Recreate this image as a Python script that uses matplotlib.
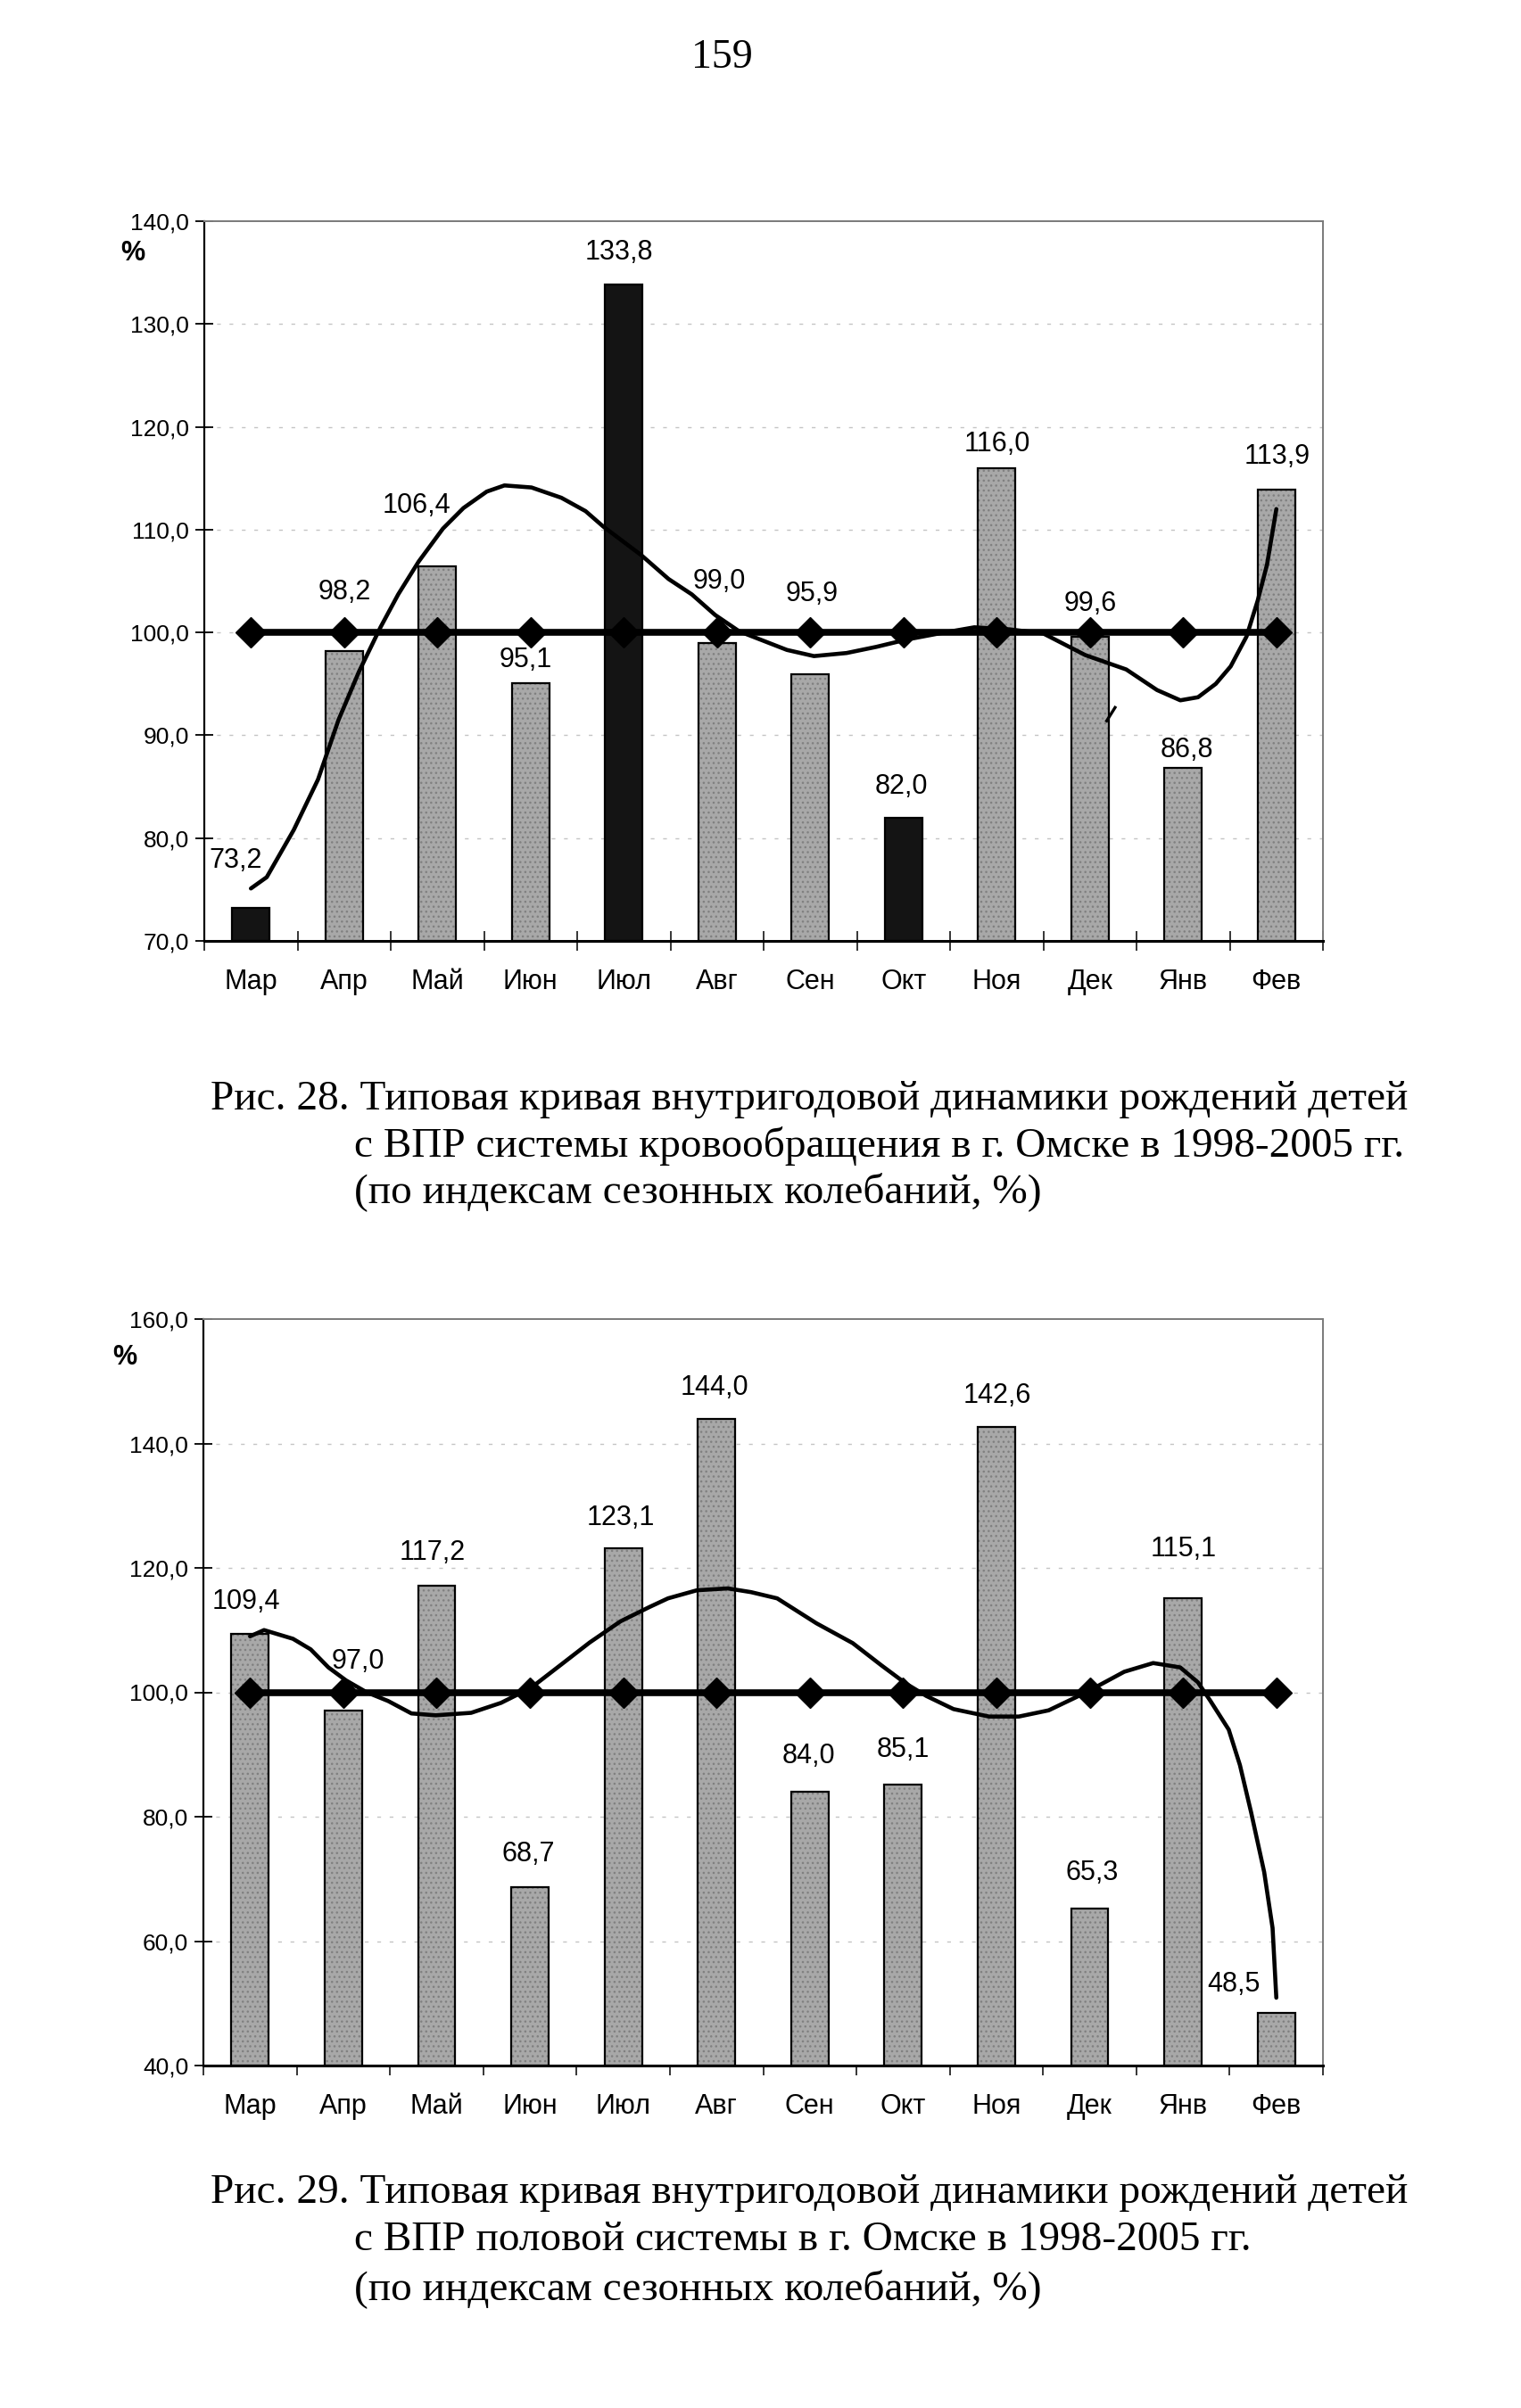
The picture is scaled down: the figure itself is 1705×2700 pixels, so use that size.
#!/usr/bin/env python3
"""
Seasonal index charts (page 159): births with congenital malformations,
Omsk 1998-2005, two bar charts with a 100% baseline and a trend curve.
"""

import matplotlib
matplotlib.use('Agg')
import matplotlib.pyplot as plt
from matplotlib import font_manager

# ---- data -----------------------------------------------------------------
months = ['Мар', 'Апр', 'Май', 'Июн', 'Июл', 'Авг', 'Сен', 'Окт', 'Ноя', 'Дек', 'Янв', 'Фев']

# Рис. 28 - система кровообращения
vals28 = [73.2, 98.2, 106.4, 95.1, 133.8, 99.0, 95.9, 82.0, 116.0, 99.6, 86.8, 113.9]
dark28 = [True, False, False, False, True, False, False, True, False, False, False, False]
base28 = [100.0, 100.0, 100.0, 100.0, 100.0, 100.0, 100.0, 100.0, 100.0, 100.0, 100.0, 100.0]
trend28_x = [0.0, 0.17, 0.46, 0.72, 0.94, 1.16, 1.39, 1.58, 1.80, 2.06, 2.28, 2.53, 2.72, 3.01,
             3.33, 3.59, 3.78, 4.19, 4.48, 4.73, 4.98, 5.24, 5.75, 6.04, 6.39, 6.71, 7.03, 7.38,
             7.76, 8.14, 8.50, 8.95, 9.39, 9.72, 9.97, 10.16, 10.35, 10.51, 10.68, 10.80, 10.90, 11.0]
trend28_y = [75.1, 76.2, 80.8, 85.7, 91.5, 96.2, 100.5, 103.7, 106.9, 110.1, 112.1, 113.7, 114.3, 114.1,
             113.1, 111.8, 110.3, 107.5, 105.2, 103.7, 101.7, 100.1, 98.3, 97.7, 98.0, 98.6, 99.3, 99.9,
             100.5, 100.3, 99.9, 97.8, 96.4, 94.4, 93.4, 93.7, 95.0, 96.7, 99.6, 103.1, 106.6, 112.0]
# small stray stroke near Дек in the original
stray28_x = [9.18, 9.27]
stray28_y = [91.4, 92.7]

# Рис. 29 - половая система
vals29 = [109.4, 97.0, 117.2, 68.7, 123.1, 144.0, 84.0, 85.1, 142.6, 65.3, 115.1, 48.5]
dark29 = [False] * 12
base29 = [100.0, 100.0, 100.0, 100.0, 100.0, 100.0, 100.0, 100.0, 100.0, 100.0, 100.0, 100.0]
trend29_x = [0.0, 0.15, 0.46, 0.65, 0.84, 1.03, 1.25, 1.48, 1.73, 1.99, 2.37, 2.69, 3.01, 3.33,
             3.64, 3.97, 4.28, 4.48, 4.79, 5.12, 5.37, 5.65, 6.07, 6.46, 6.77, 7.03, 7.25, 7.54,
             7.92, 8.24, 8.56, 8.95, 9.37, 9.68, 9.97, 10.16, 10.29, 10.49, 10.61, 10.73, 10.87, 10.96, 11.0]
trend29_y = [109.0, 110.0, 108.6, 106.9, 104.0, 101.9, 100.0, 98.6, 96.6, 96.3, 96.7, 98.3, 100.7, 104.4,
             108.0, 111.4, 113.7, 115.1, 116.4, 116.7, 116.1, 115.1, 111.1, 107.9, 104.3, 101.4, 99.4, 97.3,
             96.1, 96.1, 97.1, 99.9, 103.3, 104.7, 104.0, 101.6, 98.7, 94.0, 88.3, 80.7, 71.1, 62.1, 50.9]

captions28 = ['Рис. 28. Типовая кривая внутригодовой динамики рождений детей',
              'с ВПР системы кровообращения в г. Омске в 1998-2005 гг.',
              '(по индексам сезонных колебаний, %)']
captions29 = ['Рис. 29. Типовая кривая внутригодовой динамики рождений детей',
              'с ВПР половой системы в г. Омске в 1998-2005 гг.',
              '(по индексам сезонных колебаний, %)']

# ---- layout (label placement as in the original, in data units) ----------
lab28_dx = [-0.16, 0.0, -0.22, -0.05, -0.05, 0.02, 0.02, -0.02, 0.01, 0.0, 0.04, 0.01]
lab28_y = [77.8, 103.9, 112.3, 97.3, 137.0, 105.0, 103.7, 85.0, 118.3, 102.8, 88.6, 117.1]
lab29_dx = [-0.04, 0.16, -0.05, -0.02, -0.03, -0.02, -0.01, 0.0, 0.01, 0.03, 0.01, -0.46]
lab29_y = [114.6, 105.0, 122.4, 74.0, 128.1, 149.0, 89.7, 90.7, 147.7, 70.9, 123.0, 53.0]

W, H = 1705, 2700
DPI = 100

names = {f.name for f in font_manager.fontManager.ttflist}
if 'Liberation Sans Narrow' in names:
    TICK_FONT, TICK_SIZE = 'Liberation Sans Narrow', 22
else:
    TICK_FONT, TICK_SIZE = 'Liberation Sans', 19
LABEL_FONT = 'Liberation Sans'
SERIF = 'Liberation Serif'

GRAY = '#a8a8a8'
HATCH = '#808080'
DARK = '#141414'


def fmt(v):
    return f'{v:.1f}'.replace('.', ',')


def draw_chart(ax, vals, dark, base, tx, ty, lab_dx, lab_y, ymin, ymax, ystep, inout_x):
    x = list(range(len(months)))
    heights = [v - ymin for v in vals]
    # stippled gray bars, solid dark bars, black outline on top of all
    for i, h in enumerate(heights):
        if dark[i]:
            ax.bar(x[i], h, bottom=ymin, width=0.4, color=DARK, linewidth=0, zorder=2)
        else:
            ax.bar(x[i], h, bottom=ymin, width=0.4, color=GRAY, edgecolor=HATCH,
                   linewidth=0, hatch='...', zorder=2)
    ax.bar(x, heights, bottom=ymin, width=0.4, fill=False,
           edgecolor='black', linewidth=1.6, zorder=2.1)
    ax.plot(x, base, color='black', linewidth=5.5, marker='D', markersize=17,
            markerfacecolor='black', markeredgecolor='black', zorder=3)
    ax.plot(tx, ty, color='black', linewidth=3.3, zorder=4, solid_capstyle='round')

    for i, v in enumerate(vals):
        ax.text(i + lab_dx[i], lab_y[i], fmt(v), ha='center', va='center',
                fontsize=22, family=LABEL_FONT, zorder=5)

    ax.set_xlim(-0.5, len(months) - 0.5)
    ax.set_ylim(ymin, ymax)

    yt = list(range(ymin, ymax + 1, ystep))
    ax.set_yticks(yt)
    ax.set_yticklabels([fmt(t) for t in yt], family=TICK_FONT, fontsize=TICK_SIZE)
    ax.tick_params(axis='y', direction='inout', length=14, width=1.3, pad=5)

    ax.set_xticks(x)
    ax.set_xticklabels(months, family=LABEL_FONT, fontsize=22)
    ax.tick_params(axis='x', which='major', length=0, pad=22)
    ax.set_xticks([i - 0.5 for i in range(len(months) + 1)], minor=True)
    ax.tick_params(axis='x', which='minor', direction='inout' if inout_x else 'out',
                   length=16 if inout_x else 8, width=1.1)

    for t in yt[1:-1]:
        ax.axhline(t, color='#c4c4c4', linewidth=1.0, linestyle=(0, (3, 7)), zorder=1)

    ax.spines['left'].set_linewidth(1.6)
    ax.spines['bottom'].set_linewidth(2.2)
    for side in ('top', 'right'):
        ax.spines[side].set_color('#7a7a7a')
        ax.spines[side].set_linewidth(1.4)
        ax.spines[side].set_linestyle((0, (1, 1)))


fig = plt.figure(figsize=(W / DPI, H / DPI), dpi=DPI)
fig.patch.set_facecolor('white')

# upper chart: plot area 229..1483 x 248..1055 px
ax1 = fig.add_axes([229 / W, 1 - 1055 / H, 1254 / W, (1055 - 248) / H])
draw_chart(ax1, vals28, dark28, base28, trend28_x, trend28_y, lab28_dx, lab28_y,
           70, 140, 10, True)
ax1.plot(stray28_x, stray28_y, color='black', linewidth=2.4, zorder=4)

# lower chart: plot area 228..1483 x 1479..2316 px
ax2 = fig.add_axes([228 / W, 1 - 2316 / H, 1255 / W, (2316 - 1479) / H])
draw_chart(ax2, vals29, dark29, base29, trend29_x, trend29_y, lab29_dx, lab29_y,
           40, 160, 20, False)

# "%" unit labels
fig.text(149 / W, 1 - 284 / H, '%', ha='center', va='center', fontsize=22,
         fontweight='bold', family=TICK_FONT)
fig.text(140 / W, 1 - 1522 / H, '%', ha='center', va='center', fontsize=22,
         fontweight='bold', family=TICK_FONT)

# page number
fig.text(809 / W, 1 - 65 / H, '159', ha='center', va='center', fontsize=33, family=SERIF)

# figure captions
for lines, ys in ((captions28, (1233, 1285, 1336)), (captions29, (2459, 2512, 2566))):
    for k, (line, y) in enumerate(zip(lines, ys)):
        xl = 236 if k == 0 else 397
        fig.text(xl / W, 1 - y / H, line, ha='left', va='center', fontsize=34, family=SERIF)

fig.savefig('out.png', dpi=DPI, facecolor='white')
print('saved out.png')
